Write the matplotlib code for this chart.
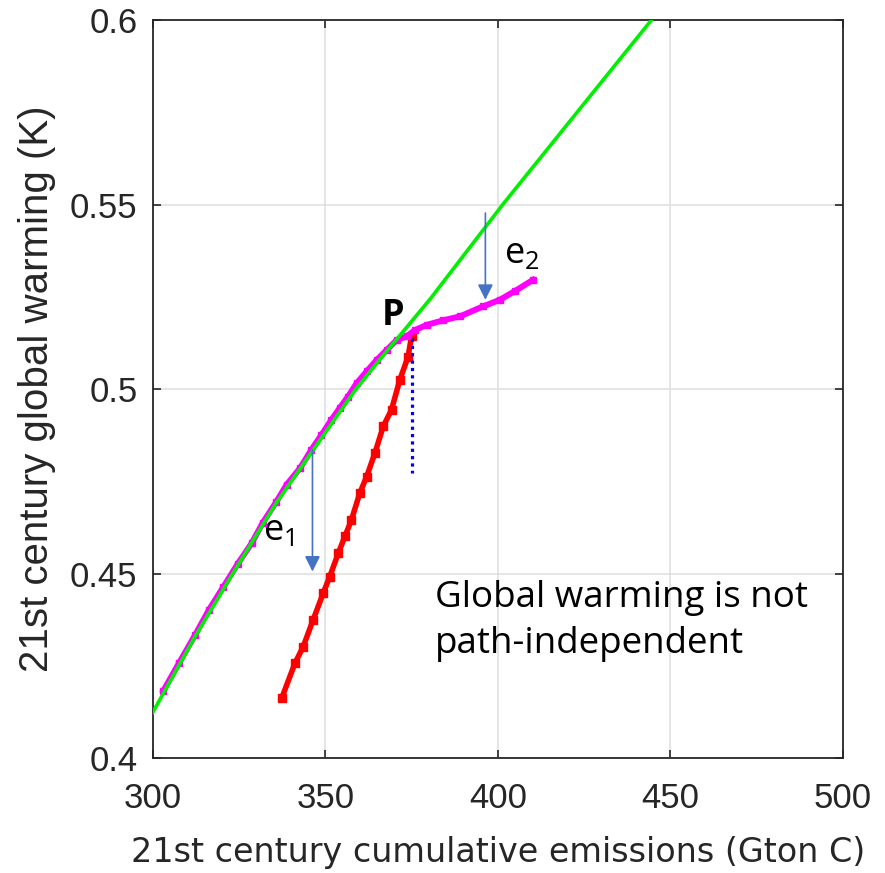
import matplotlib
matplotlib.use("Agg")
import matplotlib.pyplot as plt

# values
green_x = [300.0, 312.3, 323.5, 335.7, 346.5, 358.5, 365.8, 380.3, 401.5, 444.6]
green_y = [0.4124, 0.4330, 0.4505, 0.4690, 0.4835, 0.4995, 0.5080, 0.5243,
           0.5501, 0.6001]

magenta_x = [303.1, 307.7, 312.3, 316.3, 320.4, 324.6, 328.7, 331.9, 335.7,
             338.8, 342.7, 346.0, 348.9, 351.8, 354.2, 356.6, 359.1, 362.0,
             364.9, 367.8, 370.7, 373.6, 376.0, 379.4, 384.0, 389.0, 395.7,
             400.6, 405.0, 410.2]
magenta_y = [0.4183, 0.4259, 0.4334, 0.4402, 0.4463, 0.4526, 0.4583, 0.4638,
             0.4693, 0.4741, 0.4786, 0.4836, 0.4876, 0.4917, 0.4949, 0.4980,
             0.5016, 0.5048, 0.5079, 0.5106, 0.5133, 0.5143, 0.5160, 0.5174,
             0.5186, 0.5197, 0.5224, 0.5242, 0.5266, 0.5296]

red_x = [337.4, 341.2, 343.6, 346.5, 349.4, 351.3, 353.8, 355.7, 357.6, 360.0,
         362.0, 364.4, 366.8, 369.2, 371.6, 374.0, 375.0]
red_y = [0.4163, 0.4257, 0.4302, 0.4375, 0.4447, 0.4492, 0.4556, 0.4601,
         0.4646, 0.4718, 0.4763, 0.4827, 0.4899, 0.4944, 0.5025, 0.5088, 0.5143]

drop_x = 375.1
drop_y = [0.5139, 0.4773]

e1_arrow = (346.3, 0.4836, 0.4506)
e2_arrow = (396.4, 0.5477, 0.5242)

TXT = "#262626"
plt.rcParams["font.family"] = ["Liberation Sans", "DejaVu Sans"]

fig = plt.figure(figsize=(8.85, 8.73), dpi=100)
ax = fig.add_axes([0.1725, 0.1314, 0.7800, 0.8457])

ax.plot(red_x, red_y, color="#ff0000", lw=4, marker="s", ms=6, zorder=3)
ax.plot(magenta_x, magenta_y, color="#ff00ff", lw=4.3, marker="s", ms=5,
        zorder=4)
ax.plot(green_x, green_y, color="#00f000", lw=2.6, zorder=5)
ax.plot([drop_x, drop_x], drop_y, color="#0000ff", lw=2.3,
        ls=(0, (1, 1.3)), zorder=6)

for x, y0, y1 in (e1_arrow, e2_arrow):
    ax.annotate("", xy=(x, y1), xytext=(x, y0),
                arrowprops=dict(arrowstyle="-|>", color="#4472c4", lw=1.2,
                                mutation_scale=23, shrinkA=0, shrinkB=0),
                zorder=7)

ax.text(331.9, 0.4592, r"$\mathregular{e_1}$", family="Open Sans",
        fontsize=26, color="black", va="baseline")
ax.text(401.7, 0.5341, r"$\mathregular{e_2}$", family="Open Sans",
        fontsize=26, color="black", va="baseline")
ax.text(366.4, 0.5175, "P", family="Open Sans", fontweight="bold",
        fontsize=26, color="black", va="baseline")
# multi-line text: baseline anchors the last line
ax.text(381.8, 0.4285, "Global warming is not\npath-independent",
        family="Open Sans", fontsize=26.5, color="black", va="baseline",
        linespacing=1.39)

ax.set_xlim(300, 500)
ax.set_ylim(0.4, 0.6)
ax.set_xticks([300, 350, 400, 450, 500])
ax.set_yticks([0.4, 0.45, 0.5, 0.55, 0.6])
ax.set_yticklabels(["0.4", "0.45", "0.5", "0.55", "0.6"])
ax.grid(True, color="#dedede", lw=1.1)
ax.set_axisbelow(True)
ax.tick_params(direction="in", length=6, width=1.2, colors=TXT,
               labelsize=25, top=True, right=True)
ax.tick_params(axis="x", pad=17)
ax.tick_params(axis="y", pad=11)
for s in ax.spines.values():
    s.set_color(TXT)
    s.set_linewidth(1.3)

ax.set_xlabel("21st century cumulative emissions (Gton C)", family="DejaVu Sans",
              fontsize=24, color=TXT, labelpad=15)
ax.set_ylabel("21st century global warming (K)", fontsize=29, color=TXT,
              labelpad=10)

fig.savefig("out.png", dpi=100)
